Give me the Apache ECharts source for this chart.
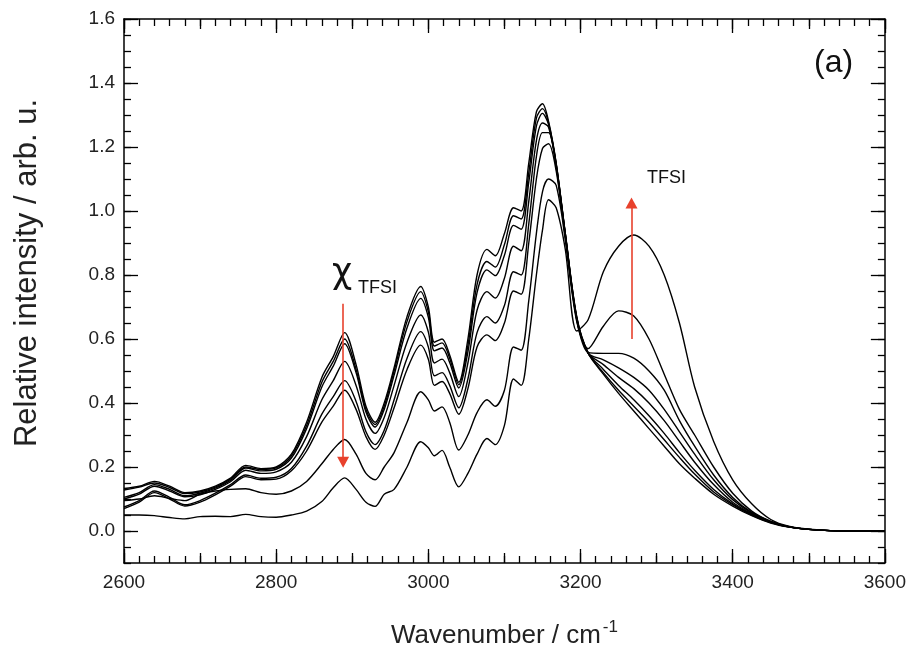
<!DOCTYPE html>
<html>
<head>
<meta charset="utf-8">
<script src="https://cdn.jsdelivr.net/npm/echarts@6/dist/echarts.min.js"></script>
<style>
  html, body { margin: 0; padding: 0; background: #fff; }
  #chart { width: 909px; height: 655px; }
</style>
</head>
<body>
<div id="chart"></div>
<script>
// wavenumber grid (cm-1) shared by all spectra
var wavenumber = [2600, 2620, 2640, 2660, 2680, 2700, 2720, 2740, 2760, 2780, 2800, 2820, 2840, 2860, 2875, 2890, 2905, 2918, 2930, 2942, 2955, 2972, 2990, 3000, 3008, 3018, 3028, 3040, 3052, 3064, 3077, 3088, 3100, 3112, 3122, 3132, 3142, 3150, 3158, 3168, 3180, 3195, 3210, 3230, 3250, 3270, 3290, 3310, 3330, 3350, 3375, 3400, 3425, 3450, 3475, 3500, 3550, 3600];

// spectra, from lowest to highest TFSI content
var s1 = [0.133, 0.14, 0.155, 0.14, 0.12, 0.125, 0.14, 0.165, 0.205, 0.195, 0.2, 0.24, 0.34, 0.48, 0.545, 0.62, 0.52, 0.39, 0.34, 0.40, 0.51, 0.67, 0.764, 0.70, 0.59, 0.60, 0.55, 0.465, 0.60, 0.80, 0.88, 0.86, 0.93, 1.01, 1.0, 1.15, 1.31, 1.335, 1.28, 1.15, 0.93, 0.67, 0.556, 0.49, 0.43, 0.375, 0.32, 0.265, 0.21, 0.165, 0.115, 0.078, 0.048, 0.025, 0.012, 0.005, 0.0, 0.0];
var s2 = [0.128, 0.137, 0.15, 0.136, 0.117, 0.122, 0.137, 0.162, 0.2, 0.192, 0.197, 0.235, 0.33, 0.465, 0.53, 0.60, 0.505, 0.38, 0.333, 0.39, 0.50, 0.655, 0.748, 0.685, 0.578, 0.588, 0.54, 0.457, 0.58, 0.77, 0.842, 0.825, 0.895, 0.985, 0.975, 1.12, 1.29, 1.32, 1.275, 1.148, 0.93, 0.668, 0.556, 0.495, 0.44, 0.39, 0.34, 0.285, 0.23, 0.178, 0.122, 0.082, 0.05, 0.026, 0.012, 0.005, 0.0, 0.0];
var s3 = [0.105, 0.12, 0.145, 0.13, 0.11, 0.118, 0.134, 0.158, 0.197, 0.188, 0.193, 0.228, 0.32, 0.45, 0.515, 0.585, 0.495, 0.372, 0.325, 0.38, 0.487, 0.635, 0.727, 0.668, 0.563, 0.572, 0.527, 0.447, 0.56, 0.745, 0.816, 0.798, 0.862, 0.955, 0.943, 1.09, 1.265, 1.305, 1.27, 1.146, 0.928, 0.666, 0.556, 0.505, 0.455, 0.41, 0.36, 0.305, 0.245, 0.19, 0.13, 0.085, 0.052, 0.027, 0.012, 0.005, 0.0, 0.0];
var s4 = [0.10, 0.115, 0.14, 0.125, 0.107, 0.113, 0.13, 0.154, 0.19, 0.18, 0.185, 0.215, 0.295, 0.41, 0.47, 0.53, 0.455, 0.35, 0.305, 0.355, 0.455, 0.59, 0.675, 0.622, 0.525, 0.537, 0.495, 0.42, 0.525, 0.69, 0.748, 0.728, 0.79, 0.89, 0.876, 1.03, 1.22, 1.275, 1.262, 1.143, 0.926, 0.664, 0.556, 0.52, 0.48, 0.445, 0.40, 0.345, 0.28, 0.215, 0.145, 0.09, 0.054, 0.028, 0.012, 0.005, 0.0, 0.0];
var s5 = [0.075, 0.095, 0.125, 0.105, 0.082, 0.095, 0.118, 0.145, 0.175, 0.165, 0.168, 0.195, 0.265, 0.365, 0.42, 0.47, 0.405, 0.31, 0.27, 0.315, 0.41, 0.54, 0.623, 0.575, 0.485, 0.495, 0.455, 0.385, 0.475, 0.62, 0.67, 0.65, 0.705, 0.81, 0.80, 0.96, 1.17, 1.245, 1.245, 1.138, 0.924, 0.662, 0.556, 0.535, 0.51, 0.48, 0.44, 0.38, 0.31, 0.24, 0.16, 0.098, 0.056, 0.029, 0.013, 0.005, 0.0, 0.0];
var s6 = [0.07, 0.09, 0.12, 0.10, 0.078, 0.09, 0.113, 0.14, 0.17, 0.16, 0.162, 0.188, 0.25, 0.34, 0.39, 0.44, 0.38, 0.295, 0.255, 0.30, 0.385, 0.505, 0.581, 0.537, 0.455, 0.467, 0.43, 0.365, 0.445, 0.575, 0.613, 0.595, 0.65, 0.75, 0.74, 0.90, 1.10, 1.195, 1.21, 1.125, 0.92, 0.66, 0.558, 0.555, 0.555, 0.54, 0.50, 0.44, 0.345, 0.265, 0.175, 0.105, 0.058, 0.03, 0.013, 0.005, 0.0, 0.0];
var s7 = [0.095, 0.10, 0.11, 0.102, 0.095, 0.115, 0.125, 0.13, 0.132, 0.12, 0.115, 0.125, 0.155, 0.21, 0.255, 0.286, 0.24, 0.18, 0.16, 0.2, 0.245, 0.34, 0.435, 0.41, 0.375, 0.388, 0.34, 0.253, 0.3, 0.37, 0.41, 0.39, 0.44, 0.575, 0.565, 0.72, 0.93, 1.06, 1.10, 1.08, 0.91, 0.655, 0.57, 0.64, 0.688, 0.672, 0.60, 0.49, 0.38, 0.30, 0.20, 0.118, 0.062, 0.03, 0.013, 0.005, 0.0, 0.0];
var s8 = [0.05, 0.05, 0.048, 0.042, 0.038, 0.045, 0.046, 0.045, 0.052, 0.045, 0.043, 0.05, 0.062, 0.092, 0.135, 0.166, 0.13, 0.09, 0.077, 0.115, 0.13, 0.2, 0.279, 0.26, 0.235, 0.252, 0.2, 0.138, 0.18, 0.24, 0.289, 0.27, 0.33, 0.475, 0.455, 0.60, 0.80, 0.94, 1.035, 1.01, 0.88, 0.625, 0.66, 0.81, 0.89, 0.925, 0.89, 0.80, 0.65, 0.45, 0.28, 0.16, 0.085, 0.036, 0.014, 0.006, 0.0, 0.0];
var spectra = [s1, s2, s3, s4, s5, s6, s7, s8];

// tick labels on the intensity axis
var yLabels = [0.0, 0.2, 0.4, 0.6, 0.8, 1.0, 1.2, 1.4, 1.6];

// red arrows: [wavenumber, from, to]
var arrowCation = [2888, 0.71, 0.215];
var arrowAnion = [3267, 0.60, 1.025];

var FONT = "'Liberation Sans', Arial, sans-serif";
var chart = echarts.init(document.getElementById('chart'));

function xAx(pos, interval, len, main) {
    return {
        type: 'value', position: pos, min: 2600, max: 3600, interval: interval,
        axisLine: { show: main, onZero: false, lineStyle: { color: '#000', width: 1.5 } },
        axisTick: { show: true, inside: true, length: len, lineStyle: { color: '#000', width: 1.3 } },
        minorTick: { show: main, splitNumber: 10, length: 7, lineStyle: { color: '#000', width: 1.3 } },
        axisLabel: { show: main && pos === 'bottom', color: '#222', fontSize: 19, fontFamily: FONT, margin: 10,
            formatter: function (v) { return String(v); } },
        splitLine: { show: false }
    };
}
function yAx(pos, main) {
    var a = {
        type: 'value', position: pos, min: -0.1, max: 1.6,
        axisLine: { show: main, onZero: false, lineStyle: { color: '#000', width: 1.5 } },
        splitLine: { show: false }
    };
    if (main) {
        a.axisTick = { show: true, inside: true, length: 14, customValues: yLabels, lineStyle: { color: '#000', width: 1.3 } };
        a.axisLabel = { show: pos === 'left', customValues: yLabels, color: '#222', fontSize: 19, fontFamily: FONT, margin: 9,
            formatter: function (v) { return v.toFixed(1); } };
    } else {
        a.interval = 0.05;
        a.axisTick = { show: true, inside: true, length: 7, lineStyle: { color: '#000', width: 1.3 } };
        a.axisLabel = { show: false };
    }
    return a;
}

var xAxes = [xAx('bottom', 200, 14, true), xAx('bottom', 100, 10, false), xAx('top', 200, 14, true), xAx('top', 100, 10, false)];
xAxes[0].name = 'Wavenumber / cm{sup|-1}';
xAxes[0].nameLocation = 'middle';
xAxes[0].nameGap = 56;
xAxes[0].nameTextStyle = { color: '#222', fontSize: 26, fontFamily: FONT,
    rich: { sup: { fontSize: 17, fontFamily: FONT, color: '#222', padding: [0, 0, 16, 2] } } };

var yAxes = [yAx('left', true), yAx('left', false), yAx('right', true), yAx('right', false)];

var arrowStyle = { color: '#e8412c', width: 1.6, type: 'solid' };

var series = spectra.map(function (s, i) {
    var ser = {
        type: 'line', xAxisIndex: 0, yAxisIndex: 0,
        data: wavenumber.map(function (w, j) { return [w, s[j]]; }),
        showSymbol: false, smooth: 0.3, silent: true,
        lineStyle: { color: '#000', width: 1.4 }
    };
    if (i === 0) {
        ser.markLine = {
            silent: true, symbol: ['none', 'triangle'], symbolSize: [12, 11],
            label: { show: false }, lineStyle: arrowStyle, animation: false,
            data: [
                [{ coord: [arrowCation[0], arrowCation[1]] }, { coord: [arrowCation[0], arrowCation[2]] }],
                [{ coord: [arrowAnion[0], arrowAnion[1]] }, { coord: [arrowAnion[0], arrowAnion[2]] }]
            ]
        };
    }
    return ser;
});

chart.setOption({
    animation: false,
    backgroundColor: '#fff',
    grid: { left: 124, right: 23, top: 19, bottom: 92 },
    xAxis: xAxes,
    yAxis: yAxes,
    series: series,
    graphic: [
        // y axis title, placed a little above the plot centre as in the original
        { type: 'text', x: 27, y: 273, rotation: Math.PI / 2,
          style: { text: 'Relative intensity / arb. u.', fontSize: 31, fontFamily: FONT, fill: '#222', align: 'center', verticalAlign: 'middle' } },
        { type: 'text', left: 814, top: 47, style: { text: '(a)', fontSize: 32, fontFamily: FONT, fill: '#111' } },
        { type: 'text', left: 647, top: 169, style: { text: 'TFSI', fontSize: 18, fontFamily: FONT, fill: '#111' } },
        { type: 'text', left: 332, top: 256, style: { text: 'χ', fontSize: 35, fontFamily: "'DejaVu Sans', sans-serif", fill: '#111' } },
        { type: 'text', left: 358, top: 279, style: { text: 'TFSI', fontSize: 18, fontFamily: FONT, fill: '#111' } }
    ]
});
</script>
</body>
</html>
